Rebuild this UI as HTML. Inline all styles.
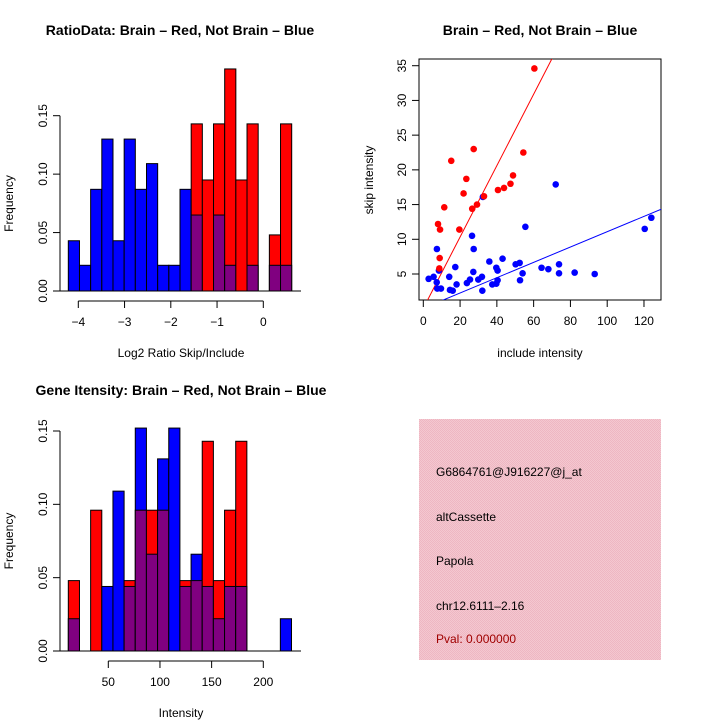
<!DOCTYPE html>
<html><head><meta charset="utf-8">
<style>
body{margin:0;background:#fff;}
svg{display:block;font-family:"Liberation Sans",Arial,sans-serif;}
</style></head>
<body>
<svg id="chart" width="720" height="720" viewBox="0 0 720 720">
<defs>
<pattern id="pinkpat" width="2" height="2" patternUnits="userSpaceOnUse">
<rect width="2" height="2" fill="#f4c8d0"/><rect width="1" height="1" fill="#eeb6c2"/><rect x="1" y="1" width="1" height="1" fill="#eeb6c2"/>
</pattern>
<clipPath id="scClip"><rect x="419" y="59" width="242" height="241"/></clipPath>
</defs>
<text x="180" y="35" text-anchor="middle" font-size="14" font-weight="bold">RatioData: Brain – Red, Not Brain – Blue</text>
<text x="540" y="35" text-anchor="middle" font-size="14" font-weight="bold">Brain – Red, Not Brain – Blue</text>
<text x="181" y="395" text-anchor="middle" font-size="14" font-weight="bold">Gene Itensity: Brain – Red, Not Brain – Blue</text>
<g id="g1"></g>
<g id="g2"></g>
<g id="g3"></g>
<g>
<rect x="419" y="419" width="242" height="241" fill="url(#pinkpat)"/>
<text x="436" y="476" font-size="12">G6864761@J916227@j_at</text>
<text x="436" y="521" font-size="12">altCassette</text>
<text x="436" y="565" font-size="12">Papola</text>
<text x="436" y="610" font-size="12">chr12.6111–2.16</text>
<text x="436" y="643" font-size="12" fill="#a00000">Pval: 0.000000</text>
</g>
</svg>
<script>
const ratioBlue=[0.043,0.022,0.087,0.130,0.043,0.130,0.087,0.109,0.022,0.022,0.087,0.065,0,0.065,0.022,0,0.022,0,0.022,0.022];
const ratioRed=[0,0,0,0,0,0,0,0,0,0,0,0.143,0.095,0.143,0.190,0.095,0.143,0,0.048,0.143];
const ratioStart=-4.216, ratioWidth=0.2415;
const ratioXTicks=[-4,-3,-2,-1,0];
const ratioYTicks=[0,0.05,0.10,0.15];
const intBlue=[0.022,0,0,0.044,0.109,0.044,0.152,0.066,0.131,0.152,0.044,0.066,0.044,0.022,0.044,0.044,0,0,0,0.022];
const intRed=[0.048,0,0.096,0,0,0.048,0.096,0.096,0.096,0,0.048,0.048,0.143,0.048,0.096,0.143,0,0,0,0];
const intStart=11.3, intWidth=10.8;
const intXTicks=[50,100,150,200];
const intYTicks=[0,0.05,0.10,0.15];
const redX=[60.4,54.4,27.4,15.2,23.4,48.8,47.4,43.9,40.6,21.9,33,29.2,26.6,11.4,8,9.1,19.6,8.9,8.7];
const redY=[34.6,22.5,23,21.3,18.7,19.2,18,17.4,17.1,16.6,16.2,15,14.4,14.6,12.2,11.4,11.4,7.3,5.8];
const blueX=[32.4,72,124,120.4,55.5,26.5,7.4,27.4,35.9,43.1,50.2,52.4,73.8,64.3,68,39.7,40.4,54,73.8,82.3,93.2,17.4,27.2,8.5,5.6,2.9,14.1,7.3,18.1,25.4,23.7,29.9,31.9,37.5,39.7,40.4,52.6,7.6,9.6,14.5,16,32.1];
const blueY=[16.1,17.9,13.1,11.5,11.8,10.5,8.6,8.6,6.8,7.2,6.4,6.6,6.4,5.9,5.7,5.9,5.5,5.1,5.1,5.2,5.0,6.0,5.3,5.5,4.6,4.3,4.6,3.8,3.5,4.2,3.7,4.2,4.6,3.5,3.6,4.1,4.1,2.9,2.9,2.7,2.6,2.6];
const redFit=[0.05,0.514];
const blueFit=[0.06,0.1103];
const scXTicks=[0,20,40,60,80,100,120];
const scYTicks=[5,10,15,20,25,30,35];

const NS="http://www.w3.org/2000/svg";
function mk(parent,tag,attrs,txt){const e=document.createElementNS(NS,tag);for(const k in attrs)e.setAttribute(k,attrs[k]);if(txt!==undefined)e.textContent=txt;parent.appendChild(e);return e;}

function hist(g,blue,red,start,width,xs,ys,xTicks,yTicks,yBase,yTop,xLabel,xLabelY,xfmt){
  const ax=60;
  const bins=blue.length;
  for(let i=0;i<bins;i++){
    const x0=xs(start+i*width),x1=xs(start+(i+1)*width);
    const b=blue[i],r=red[i];
    const hi=Math.max(b,r),lo=Math.min(b,r);
    if(hi>0){
      const e=mk(g,'rect',{x:x0,y:ys(hi),width:x1-x0,height:ys(0)-ys(hi),fill:r>=b?'#ff0000':'#0000ff',stroke:'#000','stroke-width':1});
      
      
    }
    if(lo>0){
      const e=mk(g,'rect',{x:x0,y:ys(lo),width:x1-x0,height:ys(0)-ys(lo),fill:'#800080',stroke:'#000','stroke-width':1});
      
      
    }
  }
  const base=mk(g,'line',{x1:ax,x2:301,y1:ys(0),y2:ys(0),stroke:'#000','stroke-width':1});
  
  
  // y axis
  const ya=mk(g,'line',{x1:ax,x2:ax,y1:ys(yTicks[0]),y2:ys(yTicks[yTicks.length-1]),stroke:'#000'});
  
  
  yTicks.forEach(v=>{
    mk(g,'line',{x1:ax-7,x2:ax,y1:ys(v),y2:ys(v),stroke:'#000'});
    const t=mk(g,'text',{x:0,y:0,'font-size':12,'text-anchor':'middle',transform:`translate(${ax-13},${ys(v)}) rotate(-90)`},v.toFixed(2));
    
    
  });
  const xay=yBase+10;
  const xa=mk(g,'line',{x1:xs(xTicks[0]),x2:xs(xTicks[xTicks.length-1]),y1:xay,y2:xay,stroke:'#000'});
  
  
  xTicks.forEach(v=>{
    mk(g,'line',{x1:xs(v),x2:xs(v),y1:xay,y2:xay+7,stroke:'#000'});
    const t=mk(g,'text',{x:xs(v),y:xay+25,'font-size':12,'text-anchor':'middle'},xfmt(v));
    
    
  });
  const xl=mk(g,'text',{x:181,y:xLabelY,'font-size':12,'text-anchor':'middle'},xLabel);
  
  
  const yl=mk(g,'text',{x:0,y:0,'font-size':12,'text-anchor':'middle',transform:`translate(13,${(yBase+yTop)/2}) rotate(-90)`},'Frequency');
  
  
}
const minus=v=>String(v).replace('-','−');
// top-left
{
  const xs=v=>263.3+(v-0)*46.25;
  const ys=v=>291-v*(175.3/0.15);
  hist(document.getElementById('g1'),ratioBlue,ratioRed,ratioStart,ratioWidth,xs,ys,ratioXTicks,ratioYTicks,291,116,'Log2 Ratio Skip/Include',357,minus);
}
// bottom-left
{
  const xs=v=>108.3+(v-50)*1.0333;
  const ys=v=>651-v*(220/0.15);
  hist(document.getElementById('g2'),intBlue,intRed,intStart,intWidth,xs,ys,intXTicks,intYTicks,651,431,'Intensity',717,String);
}
// scatter
{
  const g=document.getElementById('g3');
  const xs=v=>423.3+v*1.839;
  const ys=v=>274-(v-5)*6.943;
  const box=mk(g,'rect',{x:419,y:59,width:242,height:241,fill:'none',stroke:'#000'});
  
  
  scXTicks.forEach(v=>{
    mk(g,'line',{x1:xs(v),x2:xs(v),y1:300,y2:307,stroke:'#000'});
    const t=mk(g,'text',{x:xs(v),y:325,'font-size':12,'text-anchor':'middle'},String(v));
    
    
  });
  scYTicks.forEach(v=>{
    mk(g,'line',{x1:412,x2:419,y1:ys(v),y2:ys(v),stroke:'#000'});
    const t=mk(g,'text',{x:0,y:0,'font-size':12,'text-anchor':'middle',transform:`translate(406,${ys(v)}) rotate(-90)`},String(v));
    
    
  });
  const xl=mk(g,'text',{x:540,y:357,'font-size':12,'text-anchor':'middle'},'include intensity');
  
  
  const yl=mk(g,'text',{x:0,y:0,'font-size':12,'text-anchor':'middle',transform:'translate(373,180) rotate(-90)'},'skip intensity');
  
  
  const cg=mk(g,'g',{'clip-path':'url(#scClip)'});
  function fit(f,col,name){
    const x0=-10,x1=140;
    const l=mk(cg,'line',{x1:xs(x0),y1:ys(f[0]+f[1]*x0),x2:xs(x1),y2:ys(f[0]+f[1]*x1),stroke:col,'stroke-width':1});
    
    
  }
  fit(redFit,'#ff0000','brain-fit-line');
  fit(blueFit,'#0000ff','not-brain-fit-line');
  blueX.forEach((x,i)=>{
    const c=mk(g,'circle',{cx:xs(x),cy:ys(blueY[i]),r:3.3,fill:'#0000ff'});
    
    
  });
  redX.forEach((x,i)=>{
    const c=mk(g,'circle',{cx:xs(x),cy:ys(redY[i]),r:3.3,fill:'#ff0000'});
    
    
  });
}
</script>
</body></html>
